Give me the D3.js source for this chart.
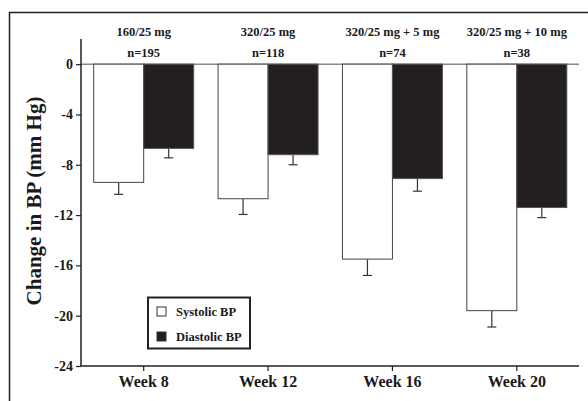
<!DOCTYPE html>
<html>
<head>
<meta charset="utf-8">
<script src="https://cdn.jsdelivr.net/npm/d3@7"></script>
<style>
  body { margin: 0; background: #fff; }
  svg { display: block; }
  text { font-family: "Liberation Serif", "Times New Roman", serif; font-weight: bold; fill: #1a1a1a; }
</style>
</head>
<body>
<svg id="chart" width="588" height="401"></svg>
<script>
const weeks = ["Week 8", "Week 12", "Week 16", "Week 20"];
const doses = ["160/25 mg", "320/25 mg", "320/25 mg + 5 mg", "320/25 mg + 10 mg"];
const nLabels = ["n=195", "n=118", "n=74", "n=38"];
const series = ["Systolic BP", "Diastolic BP"];
const systolic = [-9.4, -10.7, -15.5, -19.6];
const diastolic = [-6.7, -7.2, -9.1, -11.4];
const systolicErr = [0.95, 1.25, 1.3, 1.3];
const diastolicErr = [0.75, 0.8, 1.0, 0.8];
const yTicks = [0, -4, -8, -12, -16, -20, -24];

const svg = d3.select("#chart");

// outer frame
svg.append("rect")
  .attr("x", 9.5).attr("y", 12.5)
  .attr("width", 620).attr("height", 420)
  .attr("fill", "none").attr("stroke", "#222").attr("stroke-width", 1.5);

const x = d3.scaleBand().domain(weeks).range([81.5, 579]).padding(0);
const barW = 50;
const xSub = d3.scaleBand().domain(series).range([-barW, barW]).padding(0);
const y = d3.scaleLinear().domain([-24, 2]).range([366, 39]);

const colors = { "Systolic BP": "#ffffff", "Diastolic BP": "#231f20" };
const strokes = { "Systolic BP": "#444", "Diastolic BP": "#555" };

const data = weeks.map((w, i) => ({
  week: w,
  bars: [
    { s: "Systolic BP", v: systolic[i], e: systolicErr[i] },
    { s: "Diastolic BP", v: diastolic[i], e: diastolicErr[i] }
  ]
}));

// zero line
svg.append("line")
  .attr("x1", 81).attr("x2", 579)
  .attr("y1", y(0)).attr("y2", y(0))
  .attr("stroke", "#888").attr("stroke-width", 1.5);

const groups = svg.selectAll("g.grp").data(data).join("g")
  .attr("class", "grp")
  .attr("transform", d => `translate(${x(d.week) + x.bandwidth() / 2},0)`);

// error bars
groups.selectAll("g.err").data(d => d.bars).join("g").attr("class", "err")
  .each(function (d) {
    const g = d3.select(this);
    const cx = xSub(d.s) + xSub.bandwidth() / 2;
    g.append("line")
      .attr("x1", cx).attr("x2", cx)
      .attr("y1", y(d.v)).attr("y2", y(d.v - d.e))
      .attr("stroke", "#333").attr("stroke-width", 1.2);
    g.append("line")
      .attr("x1", cx - 4.5).attr("x2", cx + 4.5)
      .attr("y1", y(d.v - d.e)).attr("y2", y(d.v - d.e))
      .attr("stroke", "#333").attr("stroke-width", 1.2);
  });

groups.selectAll("rect").data(d => d.bars).join("rect")
  .attr("x", d => xSub(d.s))
  .attr("width", xSub.bandwidth())
  .attr("y", y(0))
  .attr("height", d => y(d.v) - y(0))
  .attr("fill", d => colors[d.s])
  .attr("stroke", d => strokes[d.s])
  .attr("stroke-width", 1);

// group labels
groups.append("text")
  .attr("x", 0).attr("y", 36)
  .attr("text-anchor", "middle")
  .style("font-size", "12.5px")
  .text((d, i) => doses[i]);
groups.append("text")
  .attr("x", 0).attr("y", 57)
  .attr("text-anchor", "middle")
  .style("font-size", "12.5px")
  .text((d, i) => nLabels[i]);

// y axis
const yAxis = svg.append("g")
  .attr("transform", "translate(81,0)")
  .call(d3.axisLeft(y).tickValues(yTicks).tickSize(5).tickPadding(3).tickFormat(d => String(d)));
yAxis.select(".domain").attr("stroke", "#222").attr("stroke-width", 1.5).attr("d", `M0,${y(2)}V${y(-24)}`);
yAxis.selectAll(".tick line").attr("stroke", "#222").attr("stroke-width", 1.2);
yAxis.selectAll(".tick text")
  .style("font-family", "Liberation Serif, serif")
  .style("font-weight", "bold")
  .style("font-size", "14px")
  .attr("fill", "#1a1a1a");

// x axis
const xAxis = svg.append("g")
  .attr("transform", `translate(0,${y(-24)})`)
  .call(d3.axisBottom(x).tickSize(5).tickPadding(5));
xAxis.select(".domain").attr("stroke", "#222").attr("stroke-width", 1.5).attr("d", `M81,0H579`);
xAxis.selectAll(".tick line").attr("stroke", "#222").attr("stroke-width", 1.2);
xAxis.selectAll(".tick text")
  .style("font-family", "Liberation Serif, serif")
  .style("font-weight", "bold")
  .style("font-size", "16px")
  .attr("fill", "#1a1a1a");

// y title
svg.append("text")
  .attr("transform", "translate(41,201) rotate(-90)")
  .attr("text-anchor", "middle")
  .style("font-size", "21px")
  .text("Change in BP (mm Hg)");

// legend
const leg = svg.append("g");
leg.append("rect")
  .attr("x", 148).attr("y", 297.5).attr("width", 102).attr("height", 51)
  .attr("fill", "#fff").attr("stroke", "#222").attr("stroke-width", 2);
const legItems = leg.selectAll("g.li").data(series).join("g").attr("class", "li")
  .attr("transform", (d, i) => `translate(157,${307 + i * 25})`);
legItems.append("rect")
  .attr("width", 9).attr("height", 9)
  .attr("fill", d => colors[d])
  .attr("stroke", "#333").attr("stroke-width", 1);
legItems.append("text")
  .attr("x", 19).attr("y", 9)
  .style("font-size", "12.5px")
  .text(d => d);
</script>
</body>
</html>
